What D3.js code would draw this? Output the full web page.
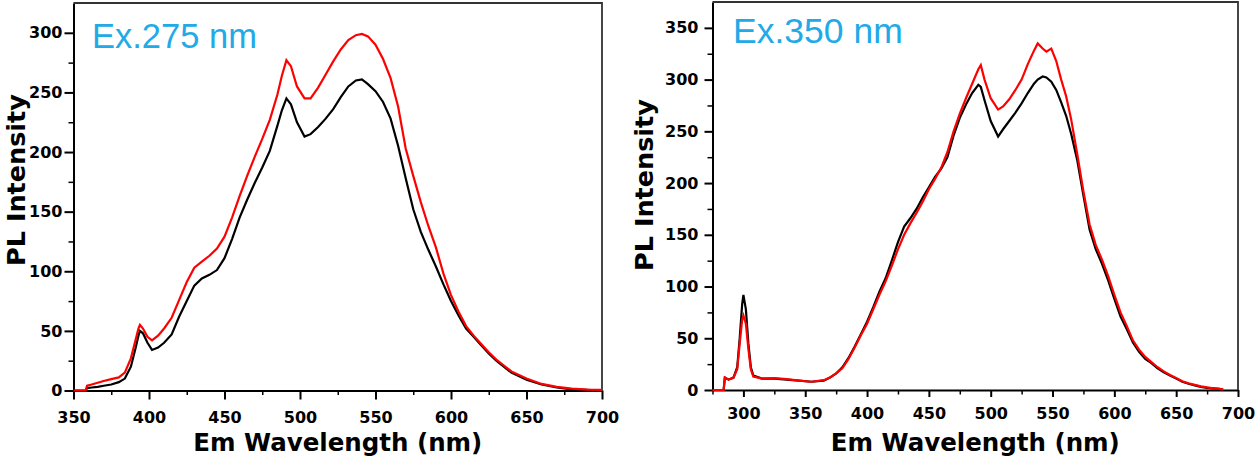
<!DOCTYPE html>
<html>
<head>
<meta charset="utf-8">
<script src="https://cdn.jsdelivr.net/npm/d3@7"></script>
<style>
	body { margin: 0; background: #fff; }
	.tick text { font-family: "DejaVu Sans", sans-serif; font-weight: bold; font-size: 16px; fill: #000; }
	.axis path, .axis line { stroke: #000; stroke-width: 2; }
	.minor path { display: none; }
	.minor line { stroke: #000; stroke-width: 1.5; }
	.title { font-family: "DejaVu Sans", sans-serif; font-weight: bold; fill: #000; }
	.ex { font-family: "Liberation Sans", Arial, sans-serif; fill: #22aae6; }
</style>
</head>
<body>
<script>

// Ex.275 nm panel
var wl275 = [350, 358, 359, 362, 366, 370, 375, 380, 384, 388, 391, 393, 394, 396, 399, 402, 406, 410, 415, 420, 425, 430, 435, 440, 445, 450, 455, 460, 465, 470, 475, 480, 485, 488, 491, 494, 498, 503, 507, 512, 517, 522, 527, 532, 537, 541, 545, 550, 555, 560, 565, 570, 575, 580, 585, 590, 595, 600, 605, 610, 615, 620, 625, 630, 640, 650, 660, 670, 680, 690, 700];
var black275 = [0, 0, 2, 2.5, 3, 4, 5, 7, 10, 20, 35, 46, 50, 48, 40, 34, 36, 40, 47, 62, 75, 88, 94, 97, 101, 111, 127, 145, 160, 174, 187, 201, 222, 235, 245, 240, 225, 213, 215, 221, 228, 236, 246, 255, 260, 261, 257, 251, 242, 228, 205, 178, 152, 133, 118, 104, 89, 75, 63, 52, 45, 38, 31, 25, 15, 9, 5, 2.5, 1, 0.5, 0];
var red275 = [0, 0, 4, 5, 6.5, 8, 9.5, 11, 15, 27, 42, 52, 55, 52, 45, 42, 46, 52, 61, 76, 91, 103, 108, 113, 119, 129, 145, 163, 180, 196, 211, 227, 248, 264, 277, 272, 255, 245, 245, 254, 265, 276, 286, 294, 298, 299, 297, 290, 278, 262, 238, 203, 180, 158, 138, 120, 98, 80, 66, 54, 46, 39, 32, 26, 16, 10, 5.5, 3, 1.5, 0.7, 0.5];

// Ex.350 nm panel
var wl350 = [275, 284, 285, 288, 292, 295, 297, 299, 300, 302, 304, 306, 308, 315, 325, 335, 345, 355, 365, 370, 375, 380, 385, 390, 395, 400, 405, 410, 415, 420, 425, 430, 435, 440, 445, 450, 455, 460, 465, 470, 475, 480, 485, 490, 492, 495, 500, 506, 510, 515, 520, 525, 530, 535, 538, 542, 545, 549, 553, 557, 561, 565, 570, 575, 580, 585, 590, 595, 600, 605, 610, 615, 620, 625, 630, 635, 640, 645, 650, 655, 660, 665, 670, 675, 680, 685, 688];
var black350 = [0, 0, 12, 10, 12, 22, 50, 83, 92, 78, 45, 22, 14, 11, 11, 10, 9, 8, 9, 12, 16, 22, 31, 42, 54, 66, 80, 95, 108, 125, 143, 158, 166, 175, 186, 196, 206, 214, 225, 246, 263, 276, 287, 295, 293, 280, 260, 245, 252, 260, 268, 277, 287, 296, 300, 303, 302, 298, 290, 278, 265, 248, 222, 188, 155, 136, 122, 106, 88, 71, 59, 46, 37, 30, 26, 21, 17, 14, 11, 8, 6, 4.5, 3, 2, 1.5, 1, 0.5];
var red350 = [0, 0, 12, 10, 12, 20, 45, 68, 72, 64, 40, 20, 13, 11, 11.5, 10.5, 9, 8, 9.5, 12, 16, 21, 30, 41, 53, 64, 78, 92, 105, 120, 136, 150, 161, 171, 182, 194, 204, 215, 230, 250, 267, 282, 296, 310, 314, 300, 282, 271, 274, 281, 290, 300, 315, 328, 335, 330, 327, 330, 318, 300, 284, 262, 228, 192, 160, 140, 126, 110, 92, 75, 62, 48, 39, 32, 27, 22, 18, 14.5, 11.5, 8.5, 6.5, 5, 3.5, 2.5, 1.5, 1, 0.5];

var xTicks275 = [350, 400, 450, 500, 550, 600, 650, 700];
var yTicks275 = [0, 50, 100, 150, 200, 250, 300];
var xTicks350 = [300, 350, 400, 450, 500, 550, 600, 650, 700];
var yTicks350 = [0, 50, 100, 150, 200, 250, 300, 350];

var svg = d3.select("body").append("svg")
	.attr("width", 1257)
	.attr("height", 462);

var inList = function(list, v){
	return list.indexOf(v) >= 0;
};

var drawPanel = function(p){

	var x = d3.scaleLinear().domain(p.xDomain).range([p.left, p.right]);
	var y = d3.scaleLinear().domain(p.yDomain).range([p.bottom, p.top]);

	// minor ticks every 25
	var xMinor = d3.range(p.xDomain[0], p.xDomain[1], 25).filter(v => !inList(p.xTicks, v));
	var yMinor = d3.range(25, p.yDomain[1], 25).filter(v => !inList(p.yTicks, v));

	svg.append("g")
		.attr("class", "minor")
		.attr("transform", "translate(0," + p.bottom + ")")
		.call(d3.axisBottom(x).tickValues(xMinor).tickSize(4.5).tickFormat(""));
	svg.append("g")
		.attr("class", "minor")
		.attr("transform", "translate(" + p.left + ",0)")
		.call(d3.axisLeft(y).tickValues(yMinor).tickSize(5).tickFormat(""));

	// main axes
	svg.append("g")
		.attr("class", "axis")
		.attr("transform", "translate(0," + p.bottom + ")")
		.call(d3.axisBottom(x).tickValues(p.xTicks).tickSize(p.xTick).tickSizeOuter(0).tickPadding(p.xPad));
	svg.append("g")
		.attr("class", "axis")
		.attr("transform", "translate(" + p.left + ",0)")
		.call(d3.axisLeft(y).tickValues(p.yTicks).tickSize(p.yTick).tickSizeOuter(0).tickPadding(p.yPad));

	// frame top and right
	svg.append("path")
		.attr("d", "M" + p.left + "," + p.top + "H" + p.right + "V" + p.bottom)
		.attr("fill", "none")
		.attr("stroke", "#333")
		.attr("stroke-width", 1.8);

	var line = d3.line()
		.x(function(d){ return x(d[0]); })
		.y(function(d){ return y(d[1]); });

	svg.append("path")
		.datum(d3.zip(p.wl, p.black))
		.attr("d", line)
		.attr("fill", "none")
		.attr("stroke", "#000")
		.attr("stroke-width", 2.2);
	svg.append("path")
		.datum(d3.zip(p.wl, p.red))
		.attr("d", line)
		.attr("fill", "none")
		.attr("stroke", "#ff0000")
		.attr("stroke-width", 2.2);

	svg.append("text")
		.attr("class", "ex")
		.attr("x", p.exX)
		.attr("y", p.exY)
		.attr("font-size", p.exSize)
		.text(p.ex);

	svg.append("text")
		.attr("class", "title")
		.attr("x", (p.left + p.right) / 2)
		.attr("y", 451)
		.attr("text-anchor", "middle")
		.attr("font-size", 24.5)
		.text("Em Wavelength (nm)");

	svg.append("text")
		.attr("class", "title")
		.attr("transform", "translate(" + p.yTitleX + "," + p.yTitleY + ") rotate(-90)")
		.attr("text-anchor", "middle")
		.attr("font-size", 25.5)
		.text("PL Intensity");
};

drawPanel({
	wl: wl275, black: black275, red: red275,
	xDomain: [350, 700], yDomain: [0, 325],
	xTicks: xTicks275, yTicks: yTicks275,
	left: 73.5, right: 602, top: 3, bottom: 390.5,
	xTick: 9, xPad: 12, yTick: 9, yPad: 2,
	ex: "Ex.275 nm", exX: 92, exY: 48, exSize: 34.5,
	yTitleX: 25, yTitleY: 180
});

drawPanel({
	wl: wl350, black: black350, red: red350,
	xDomain: [275, 700], yDomain: [0, 375],
	xTicks: xTicks350, yTicks: yTicks350,
	left: 712.5, right: 1238, top: 2, bottom: 390,
	xTick: 7, xPad: 11, yTick: 8, yPad: 6,
	ex: "Ex.350 nm", exX: 733, exY: 43, exSize: 35.5,
	yTitleX: 653, yTitleY: 185
});

</script>
</body>
</html>
